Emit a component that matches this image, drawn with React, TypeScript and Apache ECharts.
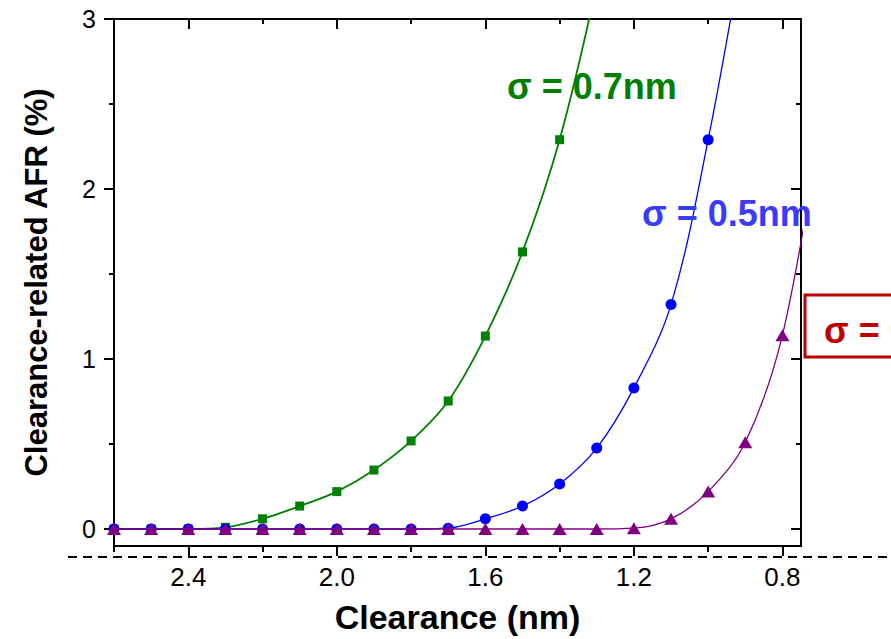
import React, { useEffect, useRef } from "react";
import * as echarts from "echarts";

// Clearance values (nm) at which the markers sit
const clearance = [2.6, 2.5, 2.4, 2.3, 2.2, 2.1, 2.0, 1.9, 1.8, 1.7, 1.6, 1.5, 1.4, 1.3, 1.2, 1.1, 1.0, 0.9, 0.8];
// Clearance-related AFR (%) per sigma
const afrSigma07 = [0, 0, 0, 0.01, 0.06, 0.135, 0.22, 0.347, 0.518, 0.753, 1.135, 1.63, 2.29];
const afrSigma05 = [0, 0, 0, 0, 0, 0, 0, 0, 0, 0.005, 0.06, 0.135, 0.265, 0.476, 0.83, 1.32, 2.29];
const afrSigma03 = [0, 0, 0, 0, 0, 0, 0, 0, 0, 0, 0, 0, 0, 0, 0.005, 0.06, 0.22, 0.51, 1.14];
// Fitted curves continue beyond the last marker (clipped by the frame)
const tailClearance = [1.3, 0.9, 0.7];
const tailAfr = [3.2, 3.5, 2.35];

const xLabelTicks = [2.4, 2.0, 1.6, 1.2, 0.8];
const xMinorTicks = [2.6, 2.2, 1.8, 1.4, 1.0];
const yLabelTicks = [0, 1, 2, 3];
const yMinorTicks = [0.5, 1.5, 2.5];

const seriesNames = ["σ = 0.7nm", "σ = 0.5nm", "σ = 0.3nm"];

const FONT = "'Liberation Sans', Arial, sans-serif";

function buildData(ys: number[], k: number) {
  const d: any[] = ys.map((v, i) => [clearance[i], v]);
  d.push({ value: [tailClearance[k], tailAfr[k]], symbol: "none" });
  return d;
}

export default function App() {
  const ref = useRef<HTMLDivElement>(null);
  useEffect(() => {
    if (!ref.current) return;
    const chart = echarts.init(ref.current, undefined, { renderer: "svg" });
    const X_MIN = 0.75, X_MAX = 2.6, Y_MIN = -0.1, Y_MAX = 3;
    const gridPos = { left: 114, top: 19, right: 90, bottom: 93, containLabel: false };
    const lineStyle = { color: "#000", width: 2 };
    const xCommon = (gridIndex: number, position: string, showLine: boolean, ticks: number[], len: number, inside: boolean) => ({
      type: "value",
      gridIndex,
      position,
      min: X_MIN,
      max: X_MAX,
      inverse: true,
      splitLine: { show: false },
      axisLine: { show: showLine, onZero: false, lineStyle },
      axisTick: { show: true, customValues: ticks, length: len, inside, lineStyle },
      axisLabel: { show: false },
    });
    const yCommon = (gridIndex: number, position: string, showLine: boolean, ticks: number[], len: number, inside: boolean) => ({
      type: "value",
      gridIndex,
      position,
      min: Y_MIN,
      max: Y_MAX,
      splitLine: { show: false },
      axisLine: { show: showLine, onZero: false, lineStyle },
      axisTick: { show: true, customValues: ticks, length: len, inside, lineStyle },
      axisLabel: { show: false },
    });

    const xMain: any = xCommon(0, "bottom", true, xLabelTicks, 10, false);
    xMain.axisLabel = {
      show: true,
      customValues: xLabelTicks,
      formatter: (v: number) => v.toFixed(1),
      fontSize: 26,
      fontFamily: FONT,
      color: "#000",
      margin: 18,
    };
    xMain.name = "Clearance (nm)";
    xMain.nameLocation = "middle";
    xMain.nameGap = 54;
    xMain.nameTextStyle = { fontSize: 34, fontWeight: "bold", fontFamily: FONT, color: "#000" };

    const yMain: any = yCommon(0, "left", true, yLabelTicks, 10, false);
    yMain.axisLabel = {
      show: true,
      customValues: yLabelTicks,
      formatter: (v: number) => String(v),
      fontSize: 25,
      fontFamily: FONT,
      color: "#000",
      margin: 18,
    };
    yMain.name = "Clearance-related AFR (%)";
    yMain.nameLocation = "middle";
    yMain.nameGap = 62;
    yMain.nameTextStyle = { fontSize: 31, fontWeight: "bold", fontFamily: FONT, color: "#000" };

    const colors = ["#008000", "#0000ff", "#800080"];
    const symbols = ["rect", "circle", "triangle"];
    const sizes: any[] = [9, 11, [14, 12]];
    const widths = [1.8, 1.3, 1.3];
    const datasets = [afrSigma07, afrSigma05, afrSigma03];

    const option: any = {
      animation: false,
      backgroundColor: "#fff",
      grid: [gridPos, gridPos],
      xAxis: [
        xMain,
        xCommon(0, "top", true, xLabelTicks, 10, true),
        xCommon(1, "bottom", false, xMinorTicks, 6, false),
        xCommon(1, "top", false, xMinorTicks, 5, true),
      ],
      yAxis: [
        yMain,
        yCommon(0, "right", true, yLabelTicks, 10, true),
        yCommon(1, "left", false, yMinorTicks, 5, false),
        yCommon(1, "right", false, yMinorTicks, 5, true),
      ],
      series: datasets.map((ys, k) => ({
        name: seriesNames[k],
        type: "line",
        xAxisIndex: 0,
        yAxisIndex: 0,
        data: buildData(ys, k),
        smooth: 0.35,
        symbol: symbols[k],
        symbolSize: sizes[k],
        showAllSymbol: true,
        itemStyle: { color: colors[k] },
        lineStyle: { color: colors[k], width: widths[k] },
        clip: true,
        z: 2 + k,
      })),
      graphic: [
        {
          type: "line",
          shape: { x1: 68, y1: 557, x2: 891, y2: 557 },
          style: { stroke: "#000", lineWidth: 2, lineDash: [9, 6] },
          z: 10,
        },
        {
          type: "text",
          x: 507,
          y: 86,
          style: {
            text: seriesNames[0],
            fill: "#008000",
            fontSize: 36,
            fontWeight: "bold",
            fontFamily: FONT,
            align: "left",
            verticalAlign: "middle",
          },
          z: 20,
        },
        {
          type: "text",
          x: 642,
          y: 213,
          style: {
            text: seriesNames[1],
            fill: "#3b3bff",
            fontSize: 36,
            fontWeight: "bold",
            fontFamily: FONT,
            align: "left",
            verticalAlign: "middle",
          },
          z: 20,
        },
        {
          type: "rect",
          shape: { x: 805, y: 295, width: 140, height: 62 },
          style: { fill: "#fff", stroke: "#c00000", lineWidth: 3 },
          z: 20,
        },
        {
          type: "text",
          x: 824,
          y: 330,
          style: {
            text: seriesNames[2],
            fill: "#c00000",
            fontSize: 36,
            fontWeight: "bold",
            fontFamily: FONT,
            align: "left",
            verticalAlign: "middle",
          },
          z: 21,
        },
      ],
    };
    chart.setOption(option);
    return () => chart.dispose();
  }, []);
  return (
    <div
      ref={ref}
      style={{ position: "fixed", left: 0, top: 0, width: 891, height: 639, background: "#fff" }}
    />
  );
}
